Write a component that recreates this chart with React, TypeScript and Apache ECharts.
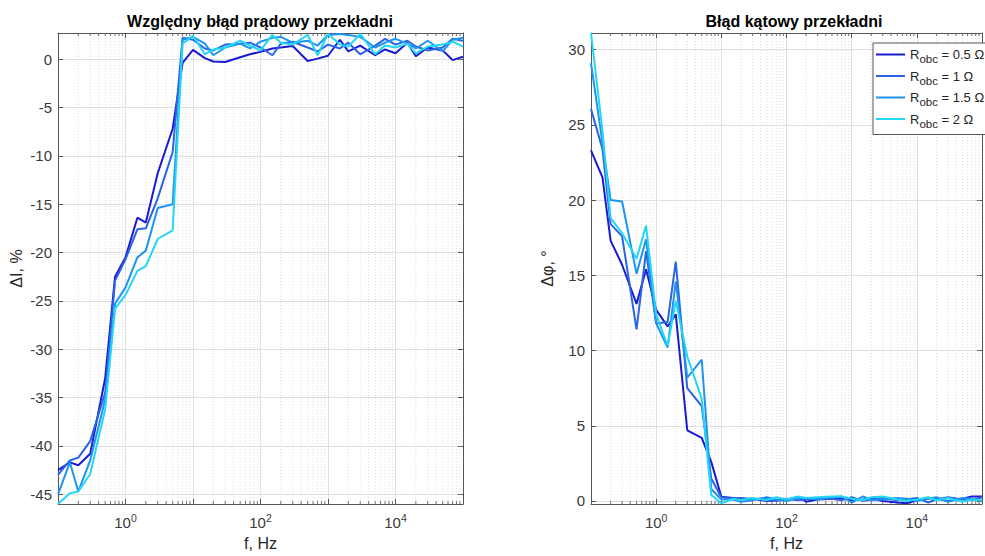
import React, { useEffect, useRef } from 'react';
import * as echarts from 'echarts';

// ---- data ----
const FREQ = [0.1, 0.15, 0.2, 0.3, 0.5, 0.7, 1, 1.5, 2, 3, 5, 7,
  10, 15, 20, 30, 50, 70, 100, 150, 200, 300, 500, 700, 1000, 1500, 2000, 3000,
  5000, 7000, 10000, 15000, 20000, 30000, 50000, 70000, 100000];

const SERIES_NAMES = ['R_obc = 0.5 Ω', 'R_obc = 1 Ω', 'R_obc = 1.5 Ω', 'R_obc = 2 Ω'];
const LEGEND_VALUES = ['0.5', '1', '1.5', '2'];
const COLORS = ['#1a1ad2', '#2a64e4', '#1f93f0', '#22d6f6'];

// Względny błąd prądowy ΔI, %
const DI_05 = [-42.5, -41.7, -42.0, -40.8, -33.0, -22.5, -20.5, -16.4, -16.9, -11.8, -7.2, -0.4,
  0.95, 0.1, -0.25, -0.3, 0.2, 0.5, 0.75, 1.1, 1.2, 1.35, -0.2, 0.05, 0.35, 2.0, 0.8, 1.4,
  0.4, 1.0, 0.6, 1.7, 0.3, 1.2, 0.9, -0.1, 0.25];
const DI_1 = [-43.0, -41.5, -41.2, -39.5, -34.5, -22.9, -20.7, -17.6, -17.5, -14.4, -9.6, 2.2,
  2.0, 1.1, 0.9, 1.5, 1.6, 1.7, 1.2, 0.4, 1.6, 1.8, 1.2, 0.8, 1.5, 1.1, 1.7, 0.5,
  1.4, 2.1, 1.5, 1.9, 1.3, 0.9, 1.2, 2.1, 1.9];
const DI_15 = [-45.0, -41.7, -44.7, -41.5, -35.2, -25.3, -23.6, -20.5, -19.8, -15.4, -15.0, 2.0,
  2.3, 1.6, 0.4, 1.2, 1.6, 1.1, 1.8, 2.2, 2.3, 1.7, 1.9, 1.4, 2.5, 2.6, 2.5, 2.3,
  1.2, 1.7, 2.1, 1.6, 1.1, 1.9, 0.8, 2.0, 2.2];
const DI_2 = [-46.0, -44.9, -44.7, -42.9, -36.2, -25.8, -24.4, -21.9, -21.4, -18.6, -17.7, 1.6,
  2.4, 0.5, 1.0, 1.2, 1.9, 1.4, 0.9, 2.5, 1.7, 1.5, 2.5, 0.4, 2.6, 1.5, 1.3, 2.6,
  0.5, 1.4, 1.2, 1.6, 0.6, 1.3, 1.5, 1.8, 1.3];

// Błąd kątowy Δφ, °
const DPHI_05 = [23.3, 21.5, 17.3, 15.7, 13.1, 15.4, 12.7, 11.6, 12.4, 4.7, 4.2, 2.6,
  0.28, 0.2, 0.15, 0.15, 0.0, 0.05, 0.1, 0.25, -0.05, 0.1, 0.15, 0.2, 0.05, 0.1, 0.15, 0.0,
  -0.1, -0.15, 0.05, 0.2, 0.15, 0.0, 0.15, 0.3, 0.3];
const DPHI_1 = [26.05, 23.4, 18.4, 17.6, 11.4, 16.6, 11.8, 11.9, 15.9, 7.5, 6.3, 1.5,
  0.25, 0.15, 0.2, 0.1, 0.2, 0.0, 0.15, 0.05, 0.1, 0.2, 0.15, 0.05, 0.25, 0.0, 0.1, 0.2,
  0.05, 0.1, 0.2, -0.1, 0.1, 0.25, 0.1, 0.05, 0.25];
const DPHI_15 = [29.1, 23.8, 20.0, 19.9, 15.1, 17.4, 11.8, 10.2, 14.6, 8.2, 9.4, 0.8,
  0.1, 0.1, -0.05, 0.05, 0.25, 0.1, 0.0, 0.2, 0.2, 0.1, 0.25, 0.3, -0.1, 0.3, 0.05, 0.1,
  0.2, 0.15, 0.0, 0.15, 0.25, -0.05, 0.2, 0.15, 0.0];
const DPHI_2 = [31.1, 24.6, 18.8, 17.8, 16.1, 18.3, 12.4, 10.3, 13.3, 9.6, 6.8, 0.4,
  -0.15, 0.15, 0.05, 0.2, 0.05, 0.25, 0.1, 0.3, 0.2, 0.25, 0.3, 0.3, 0.15, 0.05, 0.25, 0.3,
  0.1, 0.0, 0.1, 0.25, 0.05, 0.2, -0.05, 0.1, 0.05];

const DI_ALL = [DI_05, DI_1, DI_15, DI_2];
const DPHI_ALL = [DPHI_05, DPHI_1, DPHI_15, DPHI_2];

// axes
const X_MIN = 0.1;
const X_MAX = 100000;
const Y_LEFT_MIN = -46;
const Y_LEFT_MAX = 2.7;
const Y_RIGHT_MIN = -0.2;
const Y_RIGHT_MAX = 31.1;
const Y_TICKS_LEFT = [-45, -40, -35, -30, -25, -20, -15, -10, -5, 0];
const Y_TICKS_RIGHT = [0, 5, 10, 15, 20, 25, 30];
const MINOR_MULT = [2, 3, 4, 5, 6, 7, 8, 9];
const DECADES = [-1, 0, 1, 2, 3, 4];

const TITLE_LEFT = 'Względny błąd prądowy przekładni';
const TITLE_RIGHT = 'Błąd kątowy przekładni';
const Y_NAME_LEFT = 'ΔI, %';
const Y_NAME_RIGHT = 'Δφ, °';
const X_NAME = 'f, Hz';

const FONT = '"Liberation Sans", Arial, Helvetica, sans-serif';
const AXIS = '#555555';
const LABEL = '#3a3a3a';
const NAME = '#262626';
const GRID = '#e0e0e0';
const MINOR_GRID = '#d4d4d4';
const TICK_FS = 15;
const NAME_FS = 16;

const MINOR_X: number[] = [];
DECADES.forEach((d) => MINOR_MULT.forEach((m) => {
  const v = m * Math.pow(10, d);
  if (v < X_MAX) MINOR_X.push(v);
}));

function xAxes(gridIndex: number) {
  const base = {
    gridIndex,
    type: 'log',
    logBase: 10,
    min: X_MIN,
    max: X_MAX,
    axisLine: { show: true, onZero: false, lineStyle: { color: AXIS, width: 1 } },
    axisTick: { show: true, inside: true, length: 5, lineStyle: { color: AXIS, width: 1 } },
  };
  return [
    {
      ...base,
      position: 'bottom',
      splitLine: { show: true, lineStyle: { color: GRID, width: 1 } },
      name: X_NAME,
      nameLocation: 'middle',
      nameGap: 31,
      nameTextStyle: { fontFamily: FONT, fontSize: NAME_FS, color: NAME },
      axisLabel: {
        margin: 8,
        color: LABEL,
        fontFamily: FONT,
        fontSize: TICK_FS,
        formatter: (v: number) => {
          const e = Math.round(Math.log10(v));
          if (e % 2 !== 0) return '';
          return `{b|10}{s|${e}}`;
        },
        rich: {
          b: { fontFamily: FONT, fontSize: TICK_FS, color: LABEL },
          s: { fontFamily: FONT, fontSize: 10.5, color: LABEL, padding: [0, 0, 9, 0] },
        },
      },
    },
    {
      ...base,
      position: 'top',
      splitLine: { show: false },
      axisLabel: { show: false },
    },
  ];
}

function yAxes(gridIndex: number, min: number, max: number, ticks: number[], name: string, gap: number) {
  const base = {
    gridIndex,
    type: 'value',
    min,
    max,
    axisLine: { show: true, onZero: false, lineStyle: { color: AXIS, width: 1 } },
    axisTick: { show: true, inside: true, length: 5, customValues: ticks, lineStyle: { color: AXIS, width: 1 } },
  };
  return [
    {
      ...base,
      position: 'left',
      splitLine: { show: true, lineStyle: { color: GRID, width: 1 } },
      axisLabel: { customValues: ticks, margin: 6, color: LABEL, fontFamily: FONT, fontSize: TICK_FS },
      name,
      nameLocation: 'middle',
      nameGap: gap,
      nameTextStyle: { fontFamily: FONT, fontSize: NAME_FS, color: NAME },
    },
    {
      ...base,
      position: 'right',
      splitLine: { show: false },
      axisLabel: { show: false },
    },
  ];
}

function minorGridSeries(xIdx: number, yIdx: number, ymin: number, ymax: number) {
  return {
    type: 'custom',
    xAxisIndex: xIdx,
    yAxisIndex: yIdx,
    z: 1,
    silent: true,
    data: MINOR_X.map((v) => [v, ymin]),
    renderItem: (_p: any, api: any) => {
      const x = api.value(0);
      const b = api.coord([x, ymin]);
      const t = api.coord([x, ymax]);
      return {
        type: 'group',
        children: [
          { type: 'line', shape: { x1: b[0], y1: b[1], x2: t[0], y2: t[1] }, style: { stroke: MINOR_GRID, lineWidth: 0.8, lineDash: [1, 2] } },
          { type: 'line', shape: { x1: b[0], y1: b[1], x2: b[0], y2: b[1] - 3 }, style: { stroke: AXIS, lineWidth: 0.8 } },
          { type: 'line', shape: { x1: t[0], y1: t[1], x2: t[0], y2: t[1] + 3 }, style: { stroke: AXIS, lineWidth: 0.8 } },
        ],
      };
    },
  };
}

function lineSeries(values: number[][], xIdx: number, yIdx: number) {
  return values.map((arr, i) => ({
    type: 'line',
    name: SERIES_NAMES[i],
    xAxisIndex: xIdx,
    yAxisIndex: yIdx,
    data: FREQ.map((f, k) => [f, arr[k]]),
    symbol: 'none',
    showSymbol: false,
    z: 3,
    color: COLORS[i],
    lineStyle: { color: COLORS[i], width: 2 },
    emphasis: { disabled: true },
  }));
}

export default function App() {
  const ref = useRef<HTMLDivElement>(null);
  useEffect(() => {
    if (!ref.current) return;
    const chart = echarts.init(ref.current, null, { renderer: 'svg' });
    const option: any = {
      animation: false,
      backgroundColor: '#ffffff',
      graphic: [
        { type: 'text', x: 260, y: 13, silent: true, style: { text: TITLE_LEFT, fill: '#000', font: `bold 16px ${FONT}`, textAlign: 'center', textVerticalAlign: 'top' } },
        { type: 'text', x: 794, y: 13, silent: true, style: { text: TITLE_RIGHT, fill: '#000', font: `bold 16px ${FONT}`, textAlign: 'center', textVerticalAlign: 'top' } },
      ],
      grid: [
        { left: 58, top: 33, width: 405, height: 476, containLabel: false },
        { left: 591, top: 33, width: 405, height: 476, containLabel: false },
      ],
      xAxis: [...xAxes(0), ...xAxes(1)],
      yAxis: [
        ...yAxes(0, Y_LEFT_MIN, Y_LEFT_MAX, Y_TICKS_LEFT, Y_NAME_LEFT, 34),
        ...yAxes(1, Y_RIGHT_MIN, Y_RIGHT_MAX, Y_TICKS_RIGHT, Y_NAME_RIGHT, 36),
      ],
      legend: {
        data: SERIES_NAMES,
        orient: 'vertical',
        left: 873,
        top: 43,
        icon: 'rect',
        itemWidth: 29,
        itemHeight: 2,
        itemGap: 4.5,
        padding: [5, 16, 5, 3],
        borderColor: '#555',
        borderWidth: 1,
        backgroundColor: '#ffffff',
        selectedMode: false,
        formatter: (name: string) => {
          const i = SERIES_NAMES.indexOf(name);
          return `{r|R}{s|obc}{r| = ${LEGEND_VALUES[i]} Ω}`;
        },
        textStyle: {
          fontFamily: FONT,
          fontSize: 13,
          color: NAME,
          rich: {
            r: { fontFamily: FONT, fontSize: 13, color: NAME },
            s: { fontFamily: FONT, fontSize: 11.5, color: NAME, padding: [9, 0, 0, 0] },
          },
        },
      },
      series: [
        minorGridSeries(0, 0, Y_LEFT_MIN, Y_LEFT_MAX),
        minorGridSeries(2, 2, Y_RIGHT_MIN, Y_RIGHT_MAX),
        ...lineSeries(DI_ALL, 0, 0),
        ...lineSeries(DPHI_ALL, 2, 2),
      ],
    };
    chart.setOption(option);
    return () => chart.dispose();
  }, []);
  return <div ref={ref} style={{ position: 'fixed', left: 0, top: 0, width: 985, height: 556, background: '#fff' }} />;
}
